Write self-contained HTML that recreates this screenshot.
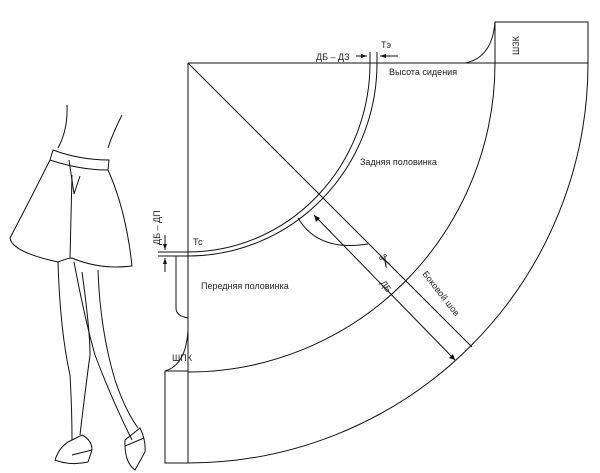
<!DOCTYPE html>
<html><head><meta charset="utf-8"><style>
html,body{margin:0;padding:0;background:#fff;}
svg{display:block;}
text{font-family:"Liberation Sans",sans-serif;font-size:9px;fill:#222;}
</style></head><body>
<svg width="600" height="473" viewBox="0 0 600 473" xmlns="http://www.w3.org/2000/svg">
<g fill="none" stroke="#111" stroke-width="1">
<line x1="188" y1="63" x2="588" y2="63"/>
<line x1="188" y1="63" x2="188" y2="463"/>
<path d="M495,63 L495,22 L588,22 L588,63"/>
<path d="M465,63 Q492,58 495,22"/>
<path d="M495,63 A307,309 0 0 1 188,372"/>
<path d="M588,63 A400,400 0 0 1 188,463"/>
<path d="M370,63 A182,189 0 0 1 188,252"/>
<path d="M377,63 A189,193 0 0 1 188,256"/>
<line x1="158" y1="252" x2="188" y2="252"/>
<line x1="158" y1="256" x2="188" y2="256"/>
<path d="M176,256 L176,308 Q176,316 188,318"/>
<path d="M188,330 Q186,365 165,371 L165,463 L188,463"/>
<line x1="165" y1="371" x2="188" y2="371"/>
<line x1="188" y1="63" x2="472" y2="347"/>
<line x1="314" y1="215" x2="455" y2="360"/>
<path d="M298,218 Q318,252 368,244"/>
<line x1="165" y1="235" x2="165" y2="250"/>
<line x1="165" y1="258" x2="165" y2="272"/>
<line x1="370" y1="52" x2="370" y2="63"/>
<line x1="377" y1="52" x2="377" y2="63"/>
<line x1="356" y1="56" x2="367" y2="56"/>
<line x1="380" y1="56" x2="398" y2="56"/>
<!-- figure -->
<path d="M67,105 Q68,130 58,148"/>
<path d="M122,115 Q112,135 108,148"/>
<path d="M53,150 Q80,160 109,160 L108,170 Q80,170 50,160 Z"/>
<path d="M50,160 Q30,200 10,238 Q12,252 58,262 Q68,258 72,258 Q100,270 132,266 Q126,210 108,170"/>
<path d="M72,175 L70,258"/>
<path d="M69,160 L74,194 L80,176"/>
<path d="M58,262 Q60,330 70,375 Q72,410 72,440"/>
<path d="M74,262 Q85,320 95,355 Q112,400 132,440"/>
<path d="M98,270 Q100,330 115,380 Q125,410 138,428"/>
<path d="M82,272 Q90,330 90,355 Q84,400 80,435"/>
<path d="M55,460 Q60,445 72,440 L82,435 Q92,440 92,450 L88,462 Q70,466 55,460 Z"/>
<path d="M72,455 L92,450"/>
<path d="M125,440 L140,428 Q146,440 145,452 L135,470 Q124,462 125,440 Z"/>
<path d="M125,446 L144,438"/>
</g>
<g fill="#111" stroke="none">
<polygon points="367,56 361,54 361,58"/>
<polygon points="380,56 386,54 386,58"/>
<polygon points="165,250 163,244 167,244"/>
<polygon points="165,258 163,264 167,264"/>
<polygon points="314,215 316,222 320,218"/>
<polygon points="455,360 449,358 453,354"/>
</g>
<text x="316" y="60">ДБ – ДЗ</text>
<text x="381" y="48">Тэ</text>
<text x="389" y="75">Высота сидения</text>
<text x="360" y="165">Задняя половинка</text>
<text x="193" y="245">Тс</text>
<text x="201" y="289">Передняя половинка</text>
<text x="172" y="361">ШПК</text>
<text transform="translate(519,55) rotate(-90)">ШЗК</text>
<text transform="translate(160,245) rotate(-90)">ДБ – ДП</text>
<text transform="translate(380,283) rotate(55)">ДБ</text>
<text transform="translate(422,274) rotate(52)">Боковой шов</text>
<text transform="translate(376,258) rotate(60)" style="font-size:18px">✂</text>
</svg>
</body></html>
